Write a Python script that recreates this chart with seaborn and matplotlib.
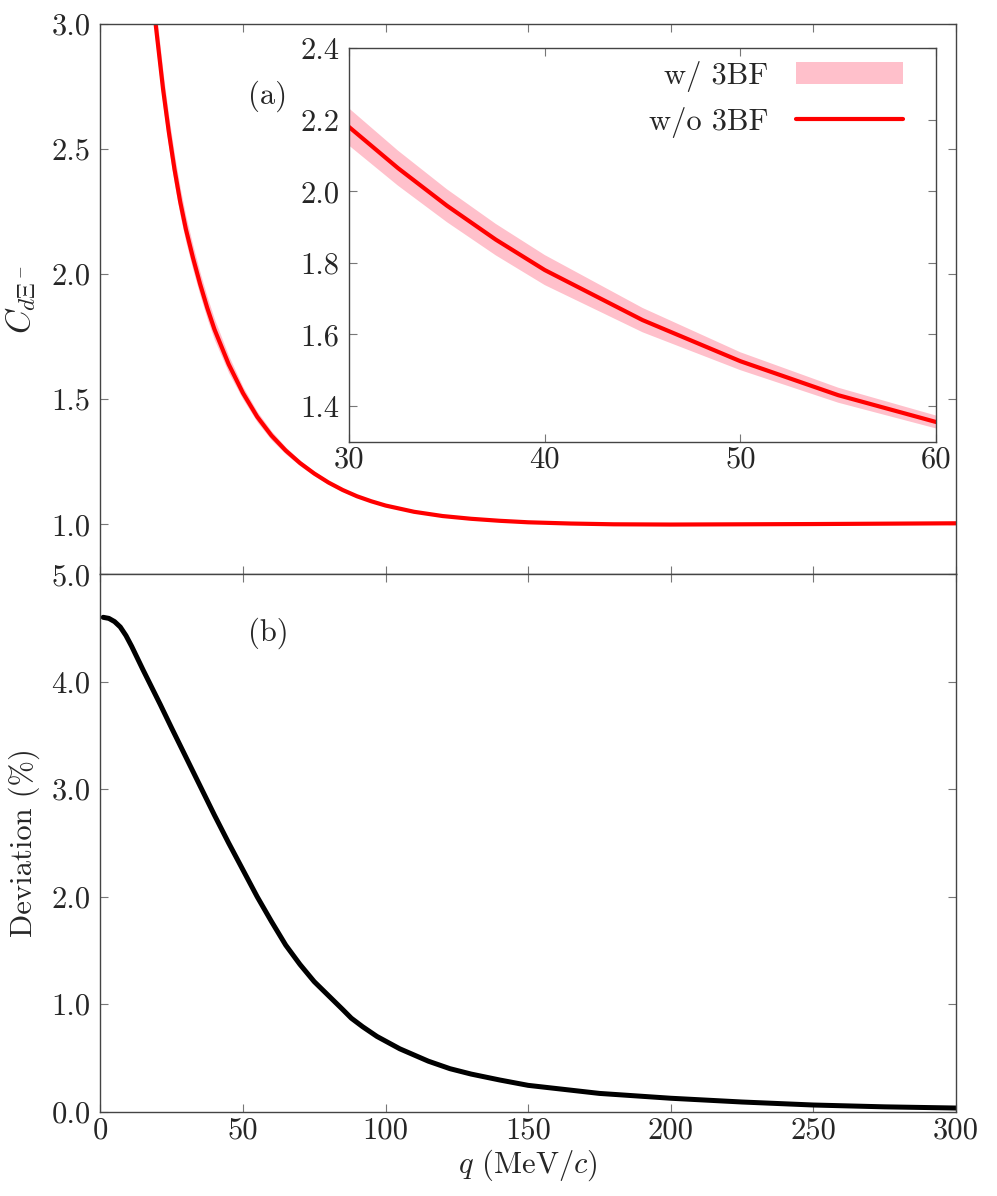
"""Correlation function d-Xi^- with and without 3BF, plus relative deviation."""

import matplotlib

matplotlib.use("Agg")
import matplotlib.pyplot as plt
import numpy as np
import seaborn as sns
from matplotlib.lines import Line2D
from matplotlib.patches import Patch

# panel (a): correlation function (w/o 3BF) and half-width of the w/ 3BF band
q_corr = [19, 20, 22, 24, 26, 28, 30, 32.5, 35, 37.5, 40, 45, 50, 55, 60,
          65, 70, 75, 80, 85, 90, 95, 100, 110, 120, 130, 140, 150, 165,
          180, 200, 250, 300]
c_corr = [3.04, 2.94, 2.74, 2.57, 2.42, 2.29, 2.18, 2.065, 1.96, 1.865, 1.78,
          1.64, 1.525, 1.43, 1.355, 1.295, 1.245, 1.203, 1.167, 1.137, 1.112,
          1.092, 1.075, 1.05, 1.033, 1.022, 1.014, 1.008, 1.003, 1.0, 0.999,
          1.001, 1.004]
band_half = [0.075, 0.073, 0.068, 0.064, 0.060, 0.056, 0.052, 0.049, 0.046,
             0.044, 0.042, 0.034, 0.025, 0.021, 0.018, 0.014, 0.011, 0.009,
             0.007, 0.006, 0.005, 0.004, 0.004, 0.003, 0.002, 0.002, 0.001,
             0.001, 0.001, 0.0, 0.0, 0.0, 0.0]

# panel (b): deviation in percent
q_dev = [1, 3, 5, 7, 9, 11, 13, 15, 18, 21, 25, 30, 35, 40, 45, 50, 55, 60,
         65, 70, 75, 80, 85, 88, 92, 97, 105, 115, 122.6, 130, 140, 150,
         175, 200, 225, 250, 275, 300]
deviation = [4.60, 4.59, 4.56, 4.51, 4.43, 4.33, 4.22, 4.11, 3.95, 3.79,
             3.57, 3.30, 3.03, 2.76, 2.50, 2.25, 2.00, 1.77, 1.55, 1.37,
             1.21, 1.08, 0.95, 0.87, 0.79, 0.70, 0.585, 0.47, 0.40, 0.35,
             0.295, 0.245, 0.17, 0.125, 0.09, 0.062, 0.045, 0.034]

sns.set_theme(style="ticks")
plt.rcParams["font.family"] = ["cmr10", "DejaVu Serif"]
plt.rcParams["mathtext.fontset"] = "cm"
plt.rcParams["axes.formatter.use_mathtext"] = True
plt.rcParams["axes.unicode_minus"] = False

FS = 22
q = np.array(q_corr)
c = np.array(c_corr)
b = np.array(band_half)


def style_axes(ax, xpad=4, ypad=7):
    for s in ax.spines.values():
        s.set_color("#444444")
        s.set_linewidth(1.0)
    ax.tick_params(direction="in", length=6, width=0.8, color="#777777",
                   top=True, right=True, labelsize=FS)
    ax.tick_params(axis="x", pad=xpad)
    ax.tick_params(axis="y", pad=ypad)


fig = plt.figure(figsize=(9.97, 11.96), dpi=100)
ax_top = fig.add_axes([0.1006, 0.5198, 0.8583, 0.4601])
ax_bot = fig.add_axes([0.1006, 0.0705, 0.8583, 0.4493])

# (a)
ax_top.fill_between(q, c - b, c + b, color="pink", lw=0)
sns.lineplot(x=q, y=c, color="red", lw=3, ax=ax_top)
ax_top.set_xlim(0, 300)
ax_top.set_ylim(0.8, 3.0)
ax_top.set_yticks([1.0, 1.5, 2.0, 2.5, 3.0])
ax_top.set_yticklabels(["1.0", "1.5", "2.0", "2.5", "3.0"])
ax_top.set_xticks([0, 50, 100, 150, 200, 250, 300])
ax_top.set_xticklabels([])
ax_top.set_ylabel(r"$C_{d\Xi^-}$", fontsize=FS + 2, labelpad=10)
ax_top.text(58.8, 2.71, "(a)", fontsize=FS, ha="center", va="center")
style_axes(ax_top)

# (b)
sns.lineplot(x=q_dev, y=deviation, color="black", lw=3.6, ax=ax_bot)
ax_bot.set_xlim(0, 300)
ax_bot.set_ylim(0, 5.0)
ax_bot.set_yticks([0, 1, 2, 3, 4, 5])
ax_bot.set_yticklabels(["0.0", "1.0", "2.0", "3.0", "4.0", "5.0"])
ax_bot.set_xticks([0, 50, 100, 150, 200, 250, 300])
ax_bot.set_xticklabels(["0", "50", "100", "150", "200", "250", "300"])
ax_bot.set_xlabel(r"$q$ (MeV/$c$)", fontsize=FS, labelpad=2)
ax_bot.set_ylabel("Deviation (%)", fontsize=FS, labelpad=8)
ax_bot.text(58.8, 4.45, "(b)", fontsize=FS, ha="center", va="center")
style_axes(ax_bot)

# inset of (a)
ax_in = fig.add_axes([0.3501, 0.6307, 0.5888, 0.3289])
ax_in.fill_between(q, c - b, c + b, color="pink", lw=0)
sns.lineplot(x=q, y=c, color="red", lw=3, ax=ax_in)
ax_in.set_xlim(30, 60)
ax_in.set_ylim(1.3, 2.4)
ax_in.set_xticks([30, 40, 50, 60])
ax_in.set_xticklabels(["30", "40", "50", "60"])
ax_in.set_yticks([1.4, 1.6, 1.8, 2.0, 2.2, 2.4])
ax_in.set_yticklabels(["1.4", "1.6", "1.8", "2.0", "2.2", "2.4"])
style_axes(ax_in, xpad=3)
handles = [Patch(color="pink", lw=0), Line2D([], [], color="red", lw=3)]
ax_in.legend(handles, ["w/ 3BF", "w/o 3BF"], loc="upper right",
             bbox_to_anchor=(0.964, 1.0), frameon=False, markerfirst=False,
             fontsize=FS, handlelength=3.5, handletextpad=0.9,
             labelspacing=0.5, borderaxespad=0.0)

fig.savefig("out.png", dpi=100)
plt.close(fig)
